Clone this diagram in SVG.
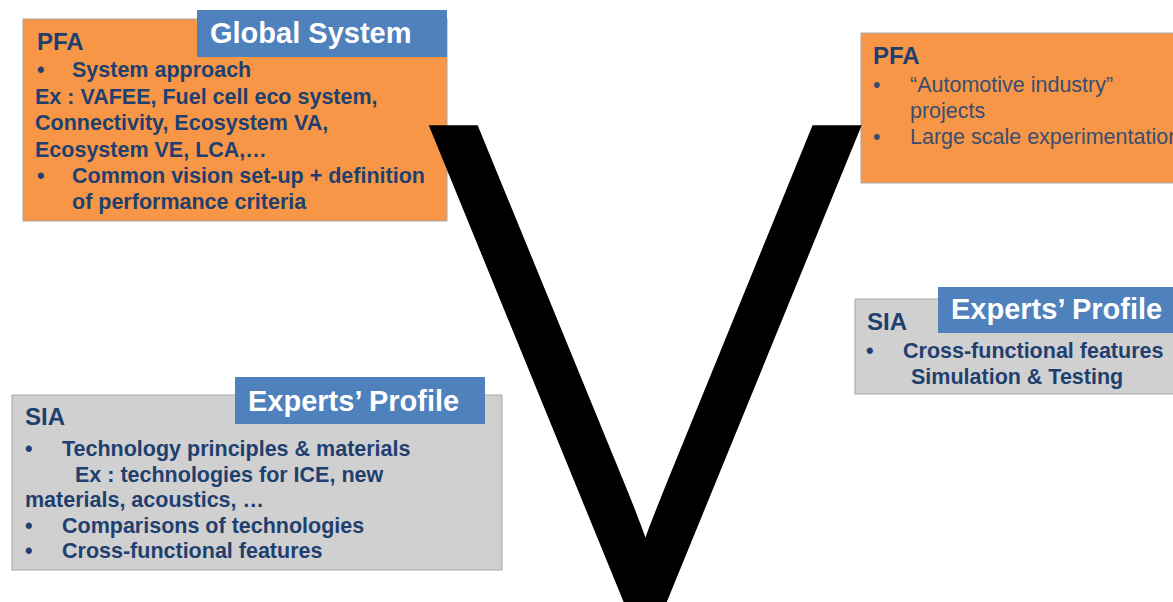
<svg xmlns="http://www.w3.org/2000/svg" width="1173" height="602" viewBox="0 0 1173 602">
<style>
.bo{fill:#F79646;stroke:#A6A6A6;stroke-width:1}
.bg{fill:#D0D0D0;stroke:#A6A6A6;stroke-width:1}
.hd{fill:#4F81BD}
.ht{font-family:"Liberation Sans",Arial,sans-serif;font-weight:bold;font-size:29px;fill:#FFFFFF}
.tt{font-family:"Liberation Sans",Arial,sans-serif;font-weight:bold;font-size:24px;fill:#1F3F6F}
.b{font-family:"Liberation Sans",Arial,sans-serif;font-weight:bold;font-size:21.5px;fill:#1F3F6F}
.n{font-family:"Liberation Sans",Arial,sans-serif;font-size:21.5px;fill:#3A4E70}
.v{font-family:"Noto Sans",sans-serif;font-weight:200;font-size:500px;fill:#000;stroke:#000;stroke-width:12.7;stroke-linejoin:miter}
</style>
<rect width="1173" height="602" fill="#FFFFFF"/>
<g id="pfa-global-system">
<rect class="bo" x="23" y="19" width="424" height="202"/>
<rect class="hd" x="197" y="10" width="250" height="47"/>
<text class="ht" x="210" y="43">Global System</text>
<text class="tt" x="37" y="50">PFA</text>
<text class="b" x="37" y="77">•</text>
<text class="b" x="72" y="77">System approach</text>
<text class="b" x="35" y="104">Ex : VAFEE, Fuel cell eco system,</text>
<text class="b" x="35" y="130">Connectivity, Ecosystem VA,</text>
<text class="b" x="35" y="157">Ecosystem VE, LCA,…</text>
<text class="b" x="37" y="183">•</text>
<text class="b" x="72" y="183">Common vision set-up + definition</text>
<text class="b" x="72" y="209">of performance criteria</text>
</g>
<g id="pfa-automotive">
<rect class="bo" x="861" y="33" width="330" height="150"/>
<text class="tt" x="873" y="64">PFA</text>
<text class="n" x="873" y="92">•</text>
<text class="n" x="910" y="92">“Automotive industry”</text>
<text class="n" x="910" y="118">projects</text>
<text class="n" x="873" y="144">•</text>
<text class="n" x="910" y="144">Large scale experimentation</text>
</g>
<g id="sia-right">
<rect class="bg" x="855" y="299" width="330" height="95"/>
<rect class="hd" x="938" y="287" width="250" height="46"/>
<text class="ht" x="951" y="319">Experts’ Profile</text>
<text class="tt" x="867" y="330">SIA</text>
<text class="b" x="866" y="358">•</text>
<text class="b" x="903" y="358">Cross-functional features</text>
<text class="b" x="911" y="384">Simulation &amp; Testing</text>
</g>
<g id="sia-left">
<rect class="bg" x="12" y="395" width="490" height="175"/>
<rect class="hd" x="235" y="377" width="250" height="47"/>
<text class="ht" x="248" y="411">Experts’ Profile</text>
<text class="tt" x="25" y="425">SIA</text>
<text class="b" x="25" y="456">•</text>
<text class="b" x="62" y="456">Technology principles &amp; materials</text>
<text class="b" x="75" y="482">Ex : technologies for ICE, new</text>
<text class="b" x="25" y="507">materials, acoustics, …</text>
<text class="b" x="25" y="533">•</text>
<text class="b" x="62" y="533">Comparisons of technologies</text>
<text class="b" x="25" y="558">•</text>
<text class="b" x="62" y="558">Cross-functional features</text>
</g>
<g id="connectors">
<g id="v-model" transform="translate(441.8,597.7) scale(1.426,1.3)">
<text class="v" x="0" y="0">V</text>
</g>
</g>
</svg>
